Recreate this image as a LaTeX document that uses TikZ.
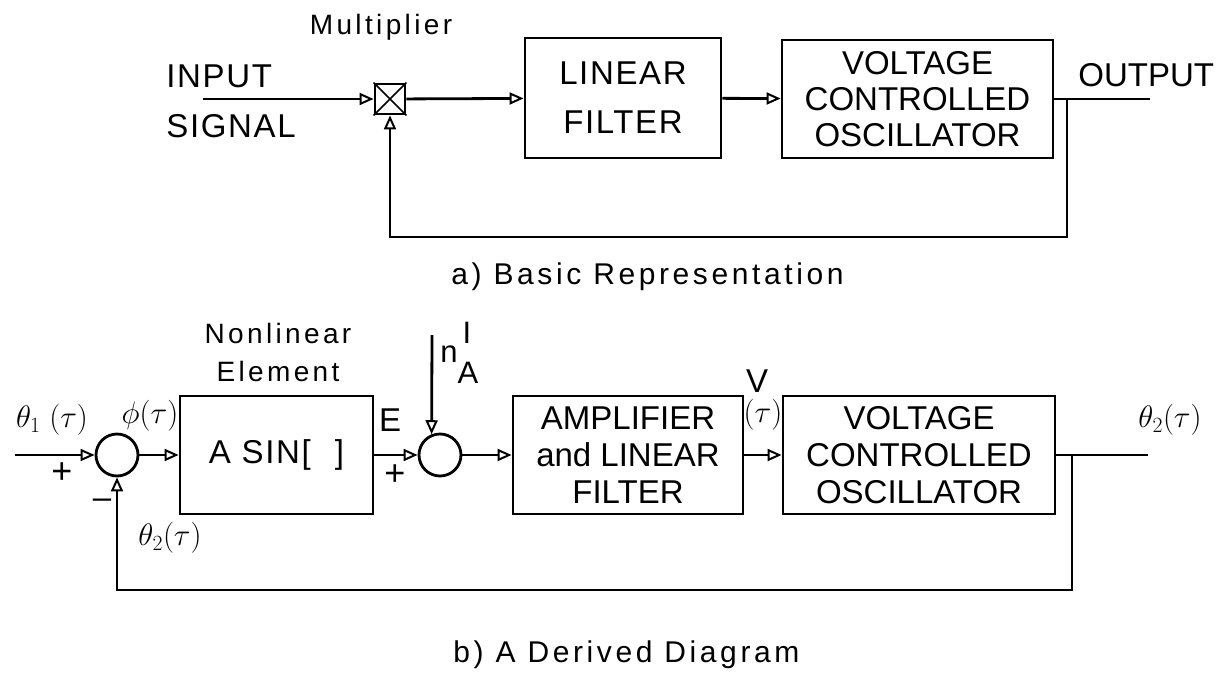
\documentclass[tikz,border=0pt]{standalone}
\usepackage{fix-cm}
\usepackage{amsmath}
\usepackage{fontspec}
\setmainfont{Liberation Sans}
\newfontfamily\spaced[LetterSpace=12]{Liberation Sans}
\newfontfamily\lspaced[LetterSpace=5]{Liberation Sans}
\usetikzlibrary{arrows.meta}
\begin{document}
\begin{tikzpicture}[x=1pt,y=-1pt,line width=2.8pt,
  blk/.style={draw,rectangle,inner sep=0pt,align=center,font=\fontsize{33}{36}\selectfont},
  sumc/.style={draw,circle,minimum size=42pt,inner sep=0pt},
  arr/.style={-{Triangle[open,length=14pt,width=12pt,line width=2pt]}},
  lbl/.style={inner sep=0pt,font=\lspaced\fontsize{33}{36}\selectfont},
  lcl/.style={inner sep=0pt,align=center,font=\spaced\fontsize{28}{38}\selectfont},
  mth/.style={inner sep=0pt,font=\fontsize{31}{34}\selectfont},
  captxt/.style={inner sep=0pt,anchor=west,font=\spaced\fontsize{30}{34}\selectfont}]
\useasboundingbox (0,0) rectangle (1220,680);

% ---------- a) Basic representation ----------
\node[draw,minimum size=30pt,inner sep=0pt] (mult) at (390,99) {};
\draw[line width=1.6pt] (mult.north west) -- (mult.south east) (mult.north east) -- (mult.south west);
\node[blk,minimum width=196pt,minimum height=120pt,font=\lspaced\fontsize{33}{49}\selectfont] (lf) at (623,98) {LINEAR\\FILTER};
\node[blk,minimum width=271pt,minimum height=118pt] (vco1) at (917.5,99) {VOLTAGE\\CONTROLLED\\OSCILLATOR};

\coordinate (in1) at (203,99);
\coordinate (out1) at (1150,99);
\coordinate (fb1) at (1067,99);
\coordinate (fb1b) at (1067,237);
\draw[arr] (in1) -- (mult);
\draw[arr] (mult) -- (lf);
\draw[arr] (lf) -- (vco1);
\draw (vco1.east) -- (out1);
\draw[arr] (fb1) -- (fb1b) -| (mult.south);

\node[lbl,anchor=west] (inp) at (165,76) {INPUT};
\node[lbl,anchor=west] (sig) at (165,126) {SIGNAL};
\node[lcl] (multl) at (381,27) {Multiplier};
\node[lbl,anchor=west,font=\fontsize{33}{36}\selectfont] (outl) at (1077,75) {OUTPUT};
\node[captxt] (capa) at (450,277) {a) Basic Representation};

% ---------- b) Derived diagram ----------
\node[sumc] (s1) at (117,455) {};
\node[blk,minimum width=193pt,minimum height=118pt,font=\lspaced\fontsize{33}{36}\selectfont] (nl) at (276.5,455) {A SIN[\hspace{24pt}]};
\node[sumc] (s2) at (440,455) {};
\node[blk,minimum width=230pt,minimum height=118pt,font=\fontsize{33}{37}\selectfont] (amp) at (628,455) {AMPLIFIER\\and LINEAR\\FILTER};
\node[blk,minimum width=272pt,minimum height=118pt,font=\fontsize{33}{37}\selectfont] (vco2) at (919,455) {VOLTAGE\\CONTROLLED\\OSCILLATOR};

\coordinate (in2) at (15,455);
\coordinate (out2) at (1148,455);
\coordinate (fb2) at (1072,455);
\coordinate (fb2b) at (1072,590);
\coordinate (nAtop) at (432,335);
\draw[arr] (in2) -- (s1);
\draw[arr] (s1) -- (nl);
\draw[arr] (nl) -- (s2);
\draw[arr] (s2) -- (amp);
\draw[arr] (amp) -- (vco2);
\draw (vco2) -- (out2);
\draw[arr] (fb2) -- (fb2b) -| (s1.south);
\draw[arr] (nAtop) -- (s2.112);

\node[mth] (th1) at (52,420) {$\theta_1\;(\tau)$};
\node[mth] (phi) at (150,416) {$\phi(\tau)$};
\node[inner sep=0pt,font=\fontsize{36}{36}\selectfont] (p1) at (62,473) {+};
\node[inner sep=0pt,font=\fontsize{36}{36}\selectfont] (p2) at (395,475) {+};
\node[inner sep=0pt,font=\fontsize{33}{36}\selectfont] (m1) at (102,504) {\textendash};
\node[mth] (th2a) at (170,538) {$\theta_2(\tau)$};
\node[lbl] (el) at (390,420) {E};
\node[lcl] (nle) at (278,352) {Nonlinear\\Element};
\node[inner sep=0pt,anchor=base west,font=\fontsize{31}{31}\selectfont] (nA) at (439,362) {n\rlap{\hspace{5pt}\raisebox{19pt}{I}}\raisebox{-21pt}{A}};
\node[lbl] (vl) at (757,381) {V};
\node[mth] (vt) at (763,415) {$(\tau)$};
\node[mth] (th2b) at (1170,420) {$\theta_2(\tau)$};
\node[captxt] (capb) at (452,655) {b) A Derived Diagram};
\end{tikzpicture}
\end{document}
